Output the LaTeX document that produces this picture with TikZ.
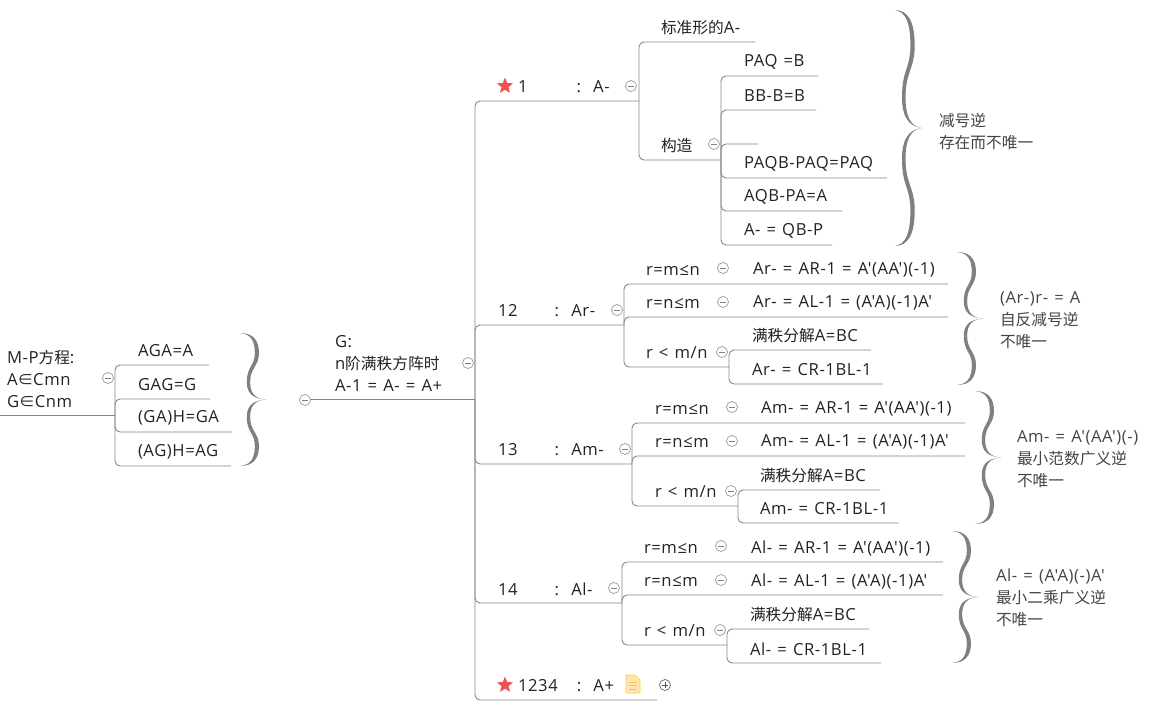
\documentclass[tikz,border=0pt]{standalone}
\usepackage{fontspec}
\usetikzlibrary{shapes.geometric}
\newfontfamily\cnfont[Scale=1.02]{Noto Sans CJK SC}
\newfontfamily\lafont[Scale=1.08,LetterSpace=3.5,WordSpace=1.25]{Open Sans}
\newcommand{\zh}[1]{{\cnfont #1}}
\definecolor{linegray}{HTML}{858585}
\definecolor{bracegray}{HTML}{808080}
\definecolor{txt}{HTML}{222222}
\definecolor{note}{HTML}{444444}
\definecolor{starred}{HTML}{EF5350}
\newcommand{\bracepath}{(0,-1) .. controls (0.48,-1) and (0.73,-0.9) .. (0.73,-0.7) .. controls (0.73,-0.5) and (0.39,-0.48) .. (0.39,-0.26) .. controls (0.39,-0.09) and (0.6,-0.01) .. (1,0) .. controls (0.55,-0.012) and (0.26,-0.08) .. (0.26,-0.26) .. controls (0.26,-0.5) and (0.57,-0.5) .. (0.57,-0.7) .. controls (0.57,-0.88) and (0.42,-0.985) .. (0,-1) -- cycle}
\newcommand{\mpbrace}[4]{% x, ymid, halfheight, width
  \fill[bracegray,shift={(#1,#2)},xscale=#4,yscale=#3] \bracepath;
  \fill[bracegray,shift={(#1,#2)},xscale=#4,yscale=-#3] \bracepath;}
\newcommand{\tp}[5]{% name, text x, underline y, underline right x, text
  \node[lab,anchor=west] (#1) at (#2,#3-14) {#5};
  \coordinate (#1-e) at (#4,#3);}
\tikzset{
  lab/.style={inner sep=0pt,outer sep=0pt,text=txt,align=left,font=\lafont\fontsize{15.4}{22}\selectfont},
  sidenote/.style={lab,text=note},
  conn/.style={draw=linegray,line width=0.9pt,rounded corners=5pt},
  toggle/.style={circle,draw=gray!80,line width=0.7pt,fill=white,minimum size=11pt,inner sep=0pt,
    path picture={\draw[gray,line width=0.7pt] ([xshift=-3pt]path picture bounding box.center)--([xshift=3pt]path picture bounding box.center);}},
  toggleplus/.style={toggle,draw=gray!120,
    path picture={\draw[black!70,line width=0.7pt] ([xshift=-3pt]path picture bounding box.center)--([xshift=3pt]path picture bounding box.center) ([yshift=-3pt]path picture bounding box.center)--([yshift=3pt]path picture bounding box.center);}},
  staricon/.style={star,star points=5,star point ratio=2.3,fill=starred,minimum size=17pt,inner sep=0pt}
}
\begin{document}
\begin{tikzpicture}[x=1pt,y=-1pt]
\useasboundingbox (0,0) rectangle (1162,704);
% braces
\mpbrace{240}{399.5}{66.5}{26}
\mpbrace{895}{128}{118}{27}
\mpbrace{957}{318.5}{66.5}{26}
\mpbrace{975}{457.5}{66.5}{26}
\mpbrace{952}{597}{66}{26}
% roots
\coordinate (root0) at (0,415);
\coordinate (root0e) at (115,415);
\draw[conn] (root0) -- (root0e);
\node[lab,anchor=west] (mp) at (7,379) {M-P\zh{方程}:\\A\zh{∈}Cmn\\G\zh{∈}Cnm};
\tp{aga}{138}{365}{209}{AGA=A}
\tp{gag}{138}{399}{210}{GAG=G}
\tp{gah}{138}{432}{232}{(GA)H=GA}
\tp{agh}{138}{466}{231}{(AG)H=AG}
\foreach \c in {aga,gag,gah,agh} \draw[conn] (root0e) |- (\c-e);
% G
\coordinate (g0) at (310,399.5);
\coordinate (ge) at (475,399.5);
\draw[conn] (g0) -- (ge);
\node[lab,anchor=west] (gt) at (335,363) {G:\\n\zh{阶满秩方阵时}\\A-1 = A- = A+};
% main children
\tp{a1}{518}{101}{639}{1\hspace{49pt}:\ \ A-}
\tp{a12}{498}{325}{624}{12\hspace{37pt}:\ \ Ar-}
\tp{a13}{498}{464}{632}{13\hspace{37pt}:\ \ Am-}
\tp{a14}{498}{603}{622}{14\hspace{37pt}:\ \ Al-}
\tp{a1234}{518}{700}{657}{1234\hspace{19pt}:\ \ A+}
\foreach \c in {a1,a12,a13,a14,a1234} \draw[conn] (ge) |- (\c-e);
\node[staricon] (s1) at (505,86) {};
\node[staricon] (s2) at (505,685) {};
% A- branch
\tp{bz}{661}{42}{755}{\zh{标准形的}A-}
\tp{gz}{661}{160}{721}{\zh{构造}}
\foreach \c in {bz,gz} \draw[conn] (a1-e) |- (\c-e);
\tp{p1}{744}{76}{818}{PAQ =B}
\tp{p2}{744}{110}{816}{BB-B=B}
\coordinate (p3-e) at (758,144);
\tp{p4}{744}{178}{887}{PAQB-PAQ=PAQ}
\tp{p5}{744}{211}{842}{AQB-PA=A}
\tp{p6}{744}{245}{832}{A- = QB-P}
\foreach \c in {p1,p2,p3,p4,p5,p6} \draw[conn] (gz-e) |- (\c-e);
\node[sidenote,anchor=west] (n1) at (939,131) {\zh{减号逆}\\\zh{存在而不唯一}};
% Ar-
\tp{r1}{646}{284}{948}{r=m≤n}
\node[lab,anchor=west] (r1t) at (753,270) {Ar- = AR-1 = A'(AA')(-1)};
\tp{r2}{646}{317}{948}{r=n≤m}
\node[lab,anchor=west] (r2t) at (753,303) {Ar- = AL-1 = (A'A)(-1)A'};
\tp{r3}{646}{367}{729}{r < m/n}
\foreach \c in {r1,r2,r3} \draw[conn] (a12-e) |- (\c-e);
\tp{r4}{752}{350}{871}{\zh{满秩分解}A=BC}
\tp{r5}{752}{384}{883}{Ar- = CR-1BL-1}
\foreach \c in {r4,r5} \draw[conn] (r3-e) |- (\c-e);
\node[sidenote,anchor=west] (n2) at (1000,320) {(Ar-)r- = A\\\zh{自反减号逆}\\\zh{不唯一}};
% Am-
\tp{m1}{655}{423}{965}{r=m≤n}
\node[lab,anchor=west] (m1t) at (761,409) {Am- = AR-1 = A'(AA')(-1)};
\tp{m2}{655}{456}{965}{r=n≤m}
\node[lab,anchor=west] (m2t) at (761,442) {Am- = AL-1 = (A'A)(-1)A'};
\tp{m3}{655}{506}{738}{r < m/n}
\foreach \c in {m1,m2,m3} \draw[conn] (a13-e) |- (\c-e);
\tp{m4}{760}{490}{880}{\zh{满秩分解}A=BC}
\tp{m5}{760}{523}{899}{Am- = CR-1BL-1}
\foreach \c in {m4,m5} \draw[conn] (m3-e) |- (\c-e);
\node[sidenote,anchor=west] (n3) at (1017,459) {Am- = A'(AA')(-)\\\zh{最小范数广义逆}\\\zh{不唯一}};
% Al-
\tp{l1}{644}{562}{943}{r=m≤n}
\node[lab,anchor=west] (l1t) at (751,548) {Al- = AR-1 = A'(AA')(-1)};
\tp{l2}{644}{595}{943}{r=n≤m}
\node[lab,anchor=west] (l2t) at (751,581) {Al- = AL-1 = (A'A)(-1)A'};
\tp{l3}{644}{645}{727}{r < m/n}
\foreach \c in {l1,l2,l3} \draw[conn] (a14-e) |- (\c-e);
\tp{l4}{750}{629}{869}{\zh{满秩分解}A=BC}
\tp{l5}{750}{663}{881}{Al- = CR-1BL-1}
\foreach \c in {l4,l5} \draw[conn] (l3-e) |- (\c-e);
\node[sidenote,anchor=west] (n4) at (996,598) {Al- = (A'A)(-)A'\\\zh{最小二乘广义逆}\\\zh{不唯一}};
% toggles
\foreach \n/\x/\y in {t1/108/378,t2/305/400,t3/468/363,t4/631/86,t5/714/144,t6/617/310,t7/723/268,t8/723/302,t9/722/352,t10/625/449,t11/732/407,t12/732/441,t13/731/491,t14/614/588,t15/721/546,t16/721/580,t17/720/630}
  \node[toggle] (\n) at (\x,\y) {};
\node[toggleplus] (t18) at (665,685) {};
% note icon
\filldraw[fill=yellow!25!orange!25,draw=orange!55!yellow!70,line width=0.7pt] (626,675) -- (635,675) -- (640,680) -- (640,693) -- (626,693) -- cycle;
\draw[orange!60!yellow!80,line width=0.9pt] (629,682)--(637,682) (629,685.5)--(637,685.5) (629,689)--(637,689);
\end{tikzpicture}
\end{document}
